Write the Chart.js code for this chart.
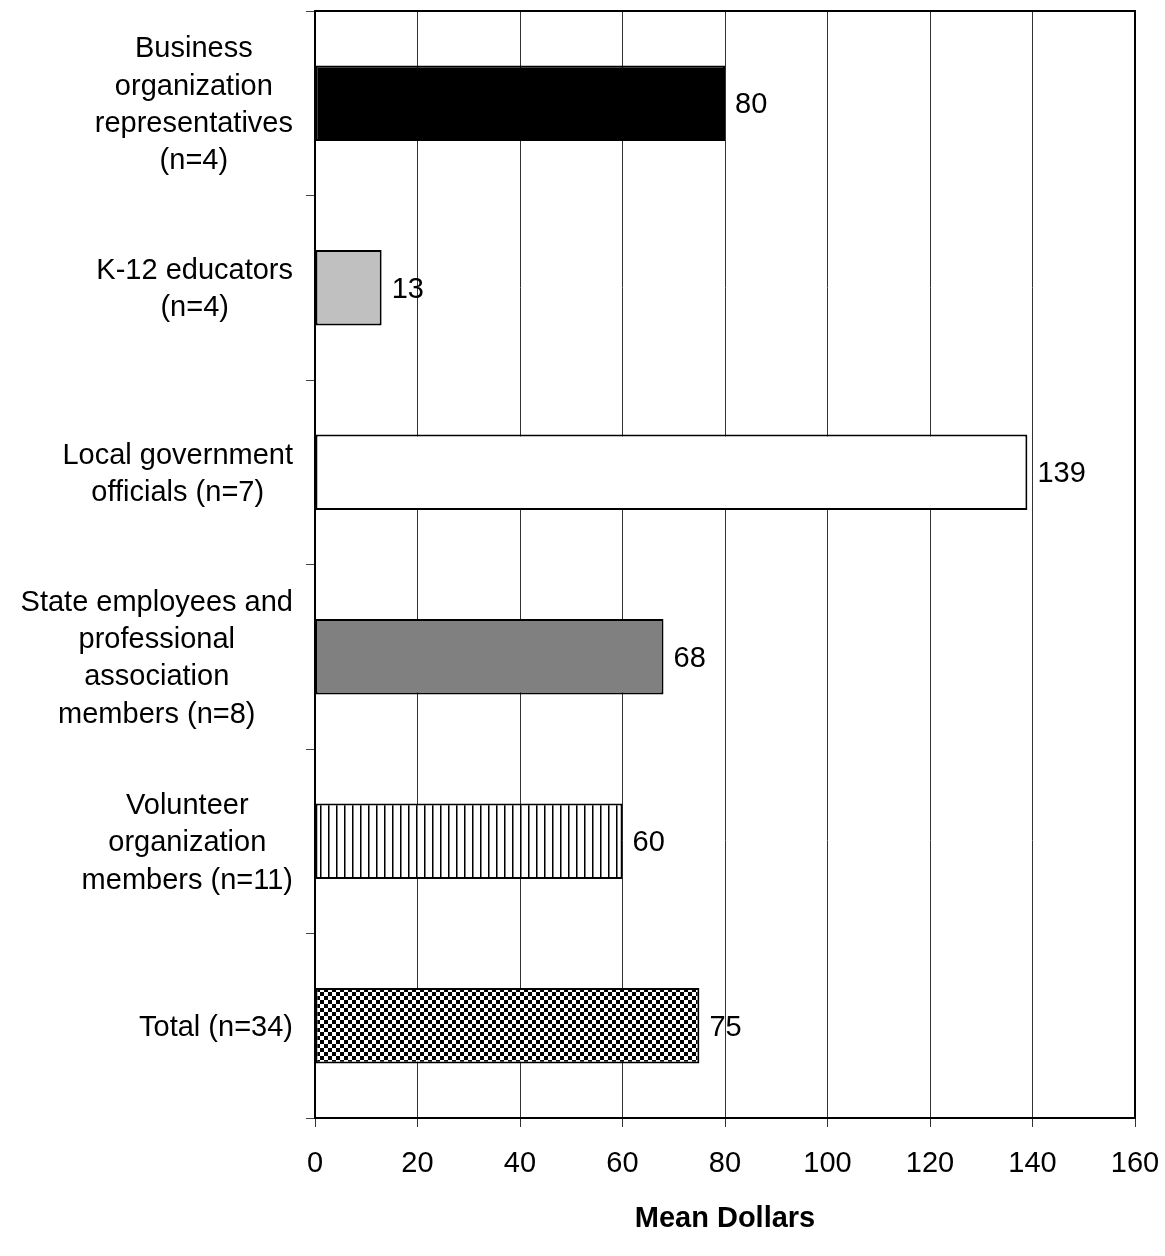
<!DOCTYPE html>
<html>
<head>
<meta charset="utf-8">
<script src="https://cdn.jsdelivr.net/npm/chart.js@4.4.1/dist/chart.umd.min.js"></script>
<style>
  html, body { margin: 0; padding: 0; background: #ffffff; }
  #wrap { width: 1165px; height: 1256px; position: relative; }
</style>
</head>
<body>
<div id="wrap"><canvas id="chart" width="1165" height="1256"></canvas></div>
<script>
// Respondent groups (multi-line labels) and their mean dollar amounts
const categories = [
  ['Business', 'organization', 'representatives', '(n=4)'],
  ['K-12 educators', '(n=4)'],
  ['Local government', 'officials (n=7)'],
  ['State employees and', 'professional', 'association', 'members (n=8)'],
  ['Volunteer', 'organization', 'members (n=11)'],
  ['Total (n=34)']
];
const meanDollars = [80, 13, 139, 68, 60, 75];
const xMin = 0;
const xMax = 160;
const xStep = 20;
const axisTitle = 'Mean Dollars';

const FONT = "'Liberation Sans', Arial, Helvetica, sans-serif";
const FONT_SIZE = 29;

// Fill patterns for each bar
function makePattern(size, draw) {
  const c = document.createElement('canvas');
  c.width = size; c.height = size;
  const g = c.getContext('2d');
  g.fillStyle = '#ffffff';
  g.fillRect(0, 0, size, size);
  draw(g);
  return document.createElement('canvas').getContext('2d').createPattern(c, 'repeat');
}
const stripes = makePattern(8, g => {
  g.fillStyle = '#000000'; g.fillRect(0, 0, 1, 8);
  g.fillStyle = '#7a7a7a'; g.fillRect(1, 0, 1, 8);
});
const checker = makePattern(8, g => {
  g.fillStyle = '#000000';
  g.fillRect(0, 0, 4, 4);
  g.fillRect(4, 4, 4, 4);
});
const fills = ['#000000', '#c0c0c0', '#ffffff', '#808080', stripes, checker];

// Right-anchored, centre-justified multi-line category labels
const categoryLabels = {
  id: 'categoryLabels',
  afterDraw(chart) {
    const { ctx, scales: { y } } = chart;
    const lineH = 37.3;
    const right = 293;
    ctx.save();
    ctx.font = FONT_SIZE + 'px ' + FONT;
    ctx.fillStyle = '#000000';
    ctx.textAlign = 'center';
    ctx.textBaseline = 'middle';
    categories.forEach((lines, i) => {
      const cy = y.getPixelForValue(i) + 2;
      const w = Math.max(...lines.map(l => ctx.measureText(l).width));
      const cx = right - w / 2;
      const y0 = cy - (lines.length - 1) * lineH / 2;
      lines.forEach((l, k) => ctx.fillText(l, cx, y0 + k * lineH));
    });
    ctx.restore();
  }
};

// Value printed just past the end of each bar
const valueLabels = {
  id: 'valueLabels',
  afterDatasetsDraw(chart) {
    const { ctx } = chart;
    const meta = chart.getDatasetMeta(0);
    ctx.save();
    ctx.font = FONT_SIZE + 'px ' + FONT;
    ctx.fillStyle = '#000000';
    ctx.textAlign = 'left';
    ctx.textBaseline = 'middle';
    meta.data.forEach((bar, i) => {
      ctx.fillText(String(meanDollars[i]), bar.x + 10, bar.y + 2);
    });
    ctx.restore();
  }
};

// Frame on the top and right sides of the plot area
const plotFrame = {
  id: 'plotFrame',
  afterDatasetsDraw(chart) {
    const { ctx, chartArea: a } = chart;
    ctx.save();
    ctx.strokeStyle = '#000000';
    ctx.lineWidth = 2;
    ctx.beginPath();
    ctx.moveTo(a.left, a.top);
    ctx.lineTo(a.right, a.top);
    ctx.lineTo(a.right, a.bottom);
    ctx.stroke();
    ctx.restore();
  }
};

new Chart(document.getElementById('chart'), {
  type: 'bar',
  data: {
    labels: categories.map(c => c.join(' ')),
    datasets: [{
      data: meanDollars,
      backgroundColor: fills,
      borderColor: '#000000',
      borderWidth: 2,
      borderSkipped: false,
      barPercentage: 0.41,
      categoryPercentage: 1
    }]
  },
  options: {
    indexAxis: 'y',
    responsive: false,
    animation: false,
    devicePixelRatio: 1,
    layout: { padding: { top: 11, right: 30, left: 0, bottom: 0 } },
    plugins: { legend: { display: false }, tooltip: { enabled: false } },
    scales: {
      y: {
        type: 'category',
        offset: true,
        afterFit(scale) { scale.width = 315; },
        ticks: { display: false },
        grid: {
          offset: true,
          drawOnChartArea: false,
          drawTicks: true,
          tickLength: 9,
          color: '#444444',
          lineWidth: 1
        },
        border: { display: true, color: '#000000', width: 2 }
      },
      x: {
        type: 'linear',
        min: xMin,
        max: xMax,
        afterFit(scale) {
          scale.height = 138;
          scale.paddingLeft = 0;
          scale.paddingRight = 0;
        },
        ticks: {
          stepSize: xStep,
          color: '#000000',
          padding: 20,
          font: { family: FONT, size: FONT_SIZE }
        },
        grid: {
          color: '#333333',
          lineWidth: 1,
          drawTicks: true,
          tickLength: 9
        },
        border: { display: true, color: '#000000', width: 2 },
        title: {
          display: true,
          text: axisTitle,
          color: '#000000',
          font: { family: FONT, size: FONT_SIZE, weight: 'bold' },
          padding: { top: 0, bottom: 20 }
        }
      }
    }
  },
  plugins: [categoryLabels, valueLabels, plotFrame]
});
</script>
</body>
</html>
